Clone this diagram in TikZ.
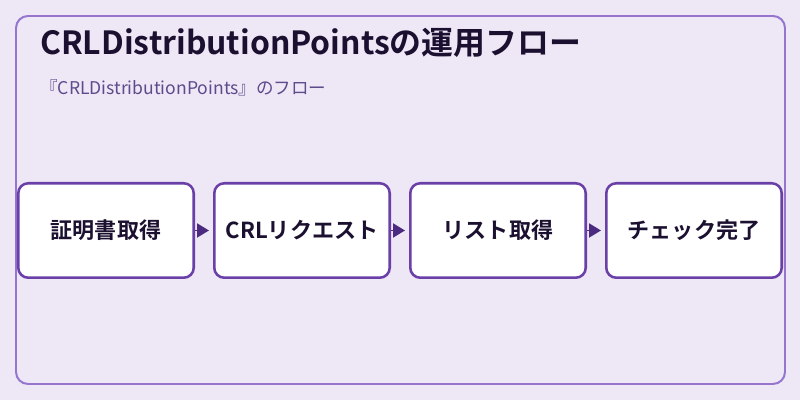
\documentclass[tikz,border=0pt]{standalone}
\usepackage{fontspec}
\setmainfont{Noto Sans CJK JP}[BoldFont={Noto Sans CJK JP Bold}]
\usetikzlibrary{arrows.meta}

\definecolor{bgpurple}{HTML}{EDE7F6}
\definecolor{framepurple}{HTML}{9575CD}
\definecolor{boxpurple}{HTML}{6A40A8}
\definecolor{arrowpurple}{HTML}{4B2A80}
\definecolor{titleink}{HTML}{1C1030}
\definecolor{subink}{HTML}{5E4B8B}

\begin{document}
\begin{tikzpicture}[
  box/.style={draw=boxpurple,fill=white,line width=1.8pt,rounded corners=0.25cm,
    minimum width=4.45cm-1.8pt,minimum height=2.425cm-1.8pt,inner sep=0pt,
    font=\fontsize{15.7pt}{18pt}\selectfont\bfseries,text=titleink},
  flow/.style={-{Triangle[length=0.3cm,width=0.35cm]},line width=1.4pt,
    color=arrowpurple,shorten >=0.1cm}]

\fill[bgpurple] (0,0) rectangle (20,10);
\draw[framepurple,line width=1.4pt,rounded corners=0.3cm] (0.4,0.4) rectangle (19.625,9.6);

\node[anchor=base west,inner sep=0pt,text=titleink,font=\fontsize{22.7pt}{26pt}\selectfont\bfseries]
  (title) at (1,8.64) {CRLDistributionPointsの運用フロー};
\node[anchor=base west,inner sep=0pt,text=subink,font=\fontsize{12.5pt}{15pt}\selectfont]
  (subtitle) at (1,7.625) {『CRLDistributionPoints』のフロー};

% steps
\node[box] (cert)  at (2.65,4.2375)  {証明書取得};
\node[box] (req)   at (7.55,4.2375)  {CRLリクエスト};
\node[box] (list)  at (12.45,4.2375) {リスト取得};
\node[box] (check) at (17.35,4.2375) {チェック完了};

\draw[flow] (cert) -- (req);
\draw[flow] (req) -- (list);
\draw[flow] (list) -- (check);

\end{tikzpicture}
\end{document}
